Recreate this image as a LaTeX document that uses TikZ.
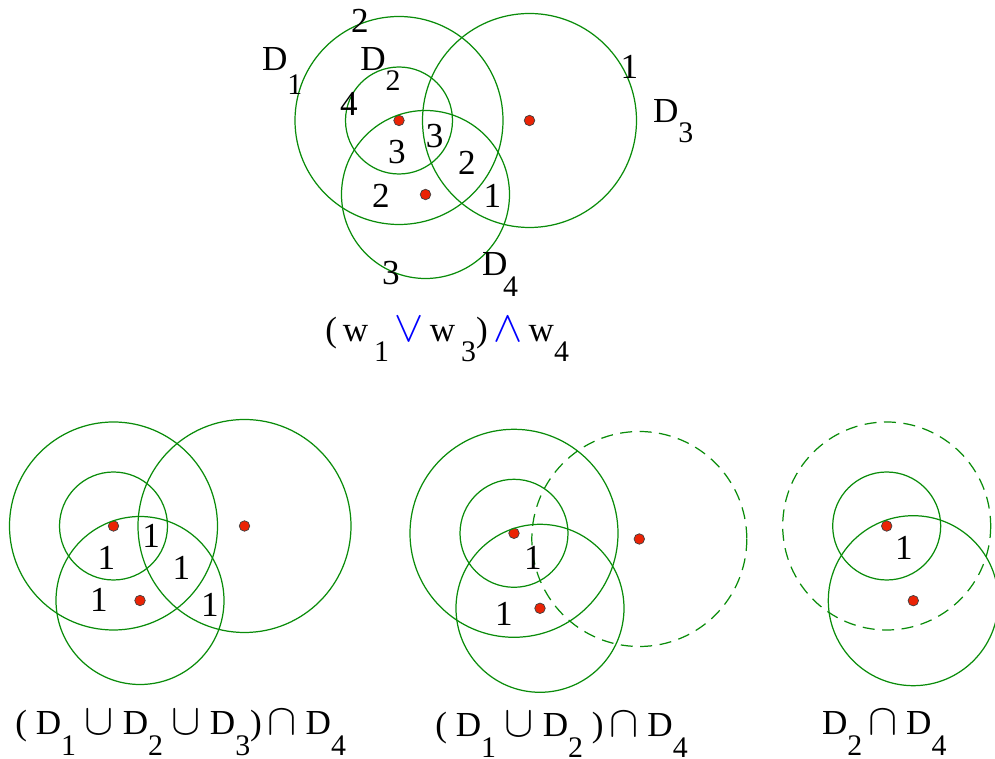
\documentclass[tikz,border=0pt]{standalone}
\usepackage{fontspec}
\setmainfont{Liberation Serif}
\usepackage{tikz}
\usetikzlibrary{positioning}
\definecolor{rimgreen}{RGB}{10,140,10}
\definecolor{seedred}{RGB}{235,35,5}
\newcommand{\lowsub}[2][0.57em]{\raisebox{-#1}{\fontsize{17}{20}\selectfont #2}}
\newcommand{\setop}[1]{{\fontsize{25}{25}\selectfont$#1$}}
\newcommand{\logop}[1]{{\color{blue}\fontsize{30}{30}\selectfont$#1$}}

\begin{document}
\begin{tikzpicture}[x=0.02cm, y=-0.02cm,
  every node/.style={font=\fontsize{20}{24}\selectfont, inner sep=0pt},
  rim/.style={draw=rimgreen, line width=0.7pt},
  rimdash/.style={rim, dash pattern=on 0.24cm off 0.15cm},
  seed/.style={circle, fill=seedred, draw=black!75, line width=0.4pt,
               minimum size=0.21cm},
  num/.style={anchor=center},
  lbl/.style={anchor=base west},
]
\useasboundingbox (0,0) rectangle (995,759);

%% ── Top: weights of the regions ──────────────────────────────────────────────
\node[seed] (a12) at (399,120.5) {};
\node[seed] (a3)  at (529.5,120.5) {};
\node[seed] (a4)  at (425.5,194.5) {};
\draw[rim] (a12) circle[radius=104];
\draw[rim] (a12) circle[radius=53.5];
\draw[rim] (a3)  circle[radius=107];
\draw[rim] (a4)  circle[radius=84];

\node[lbl] (aD1) at (261.7,70.7) {D\lowsub[0.67em]{1}};
\node[lbl] (aD2) at (360,70.7)   {D\lowsub{2}};
\node[lbl] (aD3) at (652.7,122.7) {D\lowsub{3}};
\node[lbl] (aD4) at (481.7,276)  {D\kern-2.5pt\lowsub{4}};

\node[num] (aw1) at (360,20.8)   {2};
\node[num] (aw2) at (349,103.7)  {4};
\node[num] (aw3) at (397,151.7)  {3};
\node[num] (aw4) at (434.7,135.8) {3};
\node[num] (aw5) at (467,163.3)  {2};
\node[num] (aw6) at (381,196.2)  {2};
\node[num] (aw7) at (492.5,195.5) {1};
\node[num] (aw8) at (629.5,67)   {1};
\node[num] (aw9) at (391,273.3)  {3};

\node[lbl] (aform) at (325,341.7)
  {(\,w\,\lowsub{1}\,\logop{\vee}\,w\,\lowsub{3})\,\logop{\wedge}\,w\lowsub{4}};

%% ── Bottom left: (D1 u D2 u D3) n D4 ─────────────────────────────────────────
\node[seed] (b12) at (113.5,526) {};
\node[seed] (b3)  at (244.5,526) {};
\node[seed] (b4)  at (140,600.5) {};
\draw[rim] (b12) circle[radius=104];
\draw[rim] (b12) circle[radius=54];
\draw[rim] (b3)  circle[radius=106.5];
\draw[rim] (b4)  circle[radius=84];

\node[num] (bw1) at (106.3,557.5) {1};
\node[num] (bw2) at (151.2,535.8) {1};
\node[num] (bw3) at (181.5,567.5) {1};
\node[num] (bw4) at (98.8,599.7)  {1};
\node[num] (bw5) at (210,604.5)   {1};

\node[lbl] (bform) at (15,735)
  {( D\lowsub{1} \setop{\cup} D\lowsub{2} \setop{\cup} D\lowsub{3})\,\setop{\cap} D\lowsub{4}};

%% ── Bottom middle: (D1 u D2) n D4 ────────────────────────────────────────────
\node[seed] (c12) at (514,533.3) {};
\node[seed] (c3)  at (639.3,539) {};
\node[seed] (c4)  at (540,608.3) {};
\draw[rim] (c12) circle[radius=104];
\draw[rim] (c12) circle[radius=54];
\draw[rimdash] (c3) circle[radius=107.5];
\draw[rim] (c4)  circle[radius=84];

\node[num] (cw1) at (533,558.3) {1};
\node[num] (cw2) at (504,613.7) {1};

\node[lbl] (cform) at (435,737)
  {( D\lowsub{1} \setop{\cup} D\lowsub{2} )\,\setop{\cap} D\lowsub{4}};

%% ── Bottom right: D2 n D4 ────────────────────────────────────────────────────
\node[seed] (d12) at (886.7,526) {};
\node[seed] (d4)  at (913.3,600.7) {};
\draw[rimdash] (d12) circle[radius=104];
\draw[rim] (d12) circle[radius=54];
\draw[rim] (d4)  circle[radius=85];

\node[num] (dw1) at (903.8,548.3) {1};

\node[lbl] (dform) at (821.7,735) {D\lowsub{2}\,\setop{\cap} D\lowsub{4}};

\end{tikzpicture}
\end{document}
